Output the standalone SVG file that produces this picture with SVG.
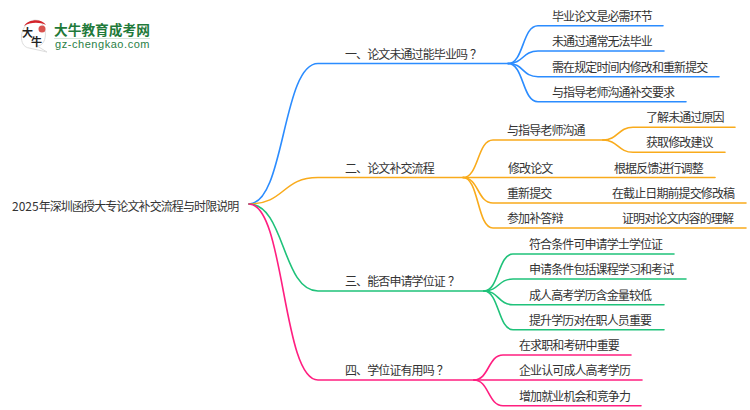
<svg xmlns="http://www.w3.org/2000/svg" width="750" height="410" viewBox="0 0 750 410">
<style>
text{font-family:"Noto Sans CJK SC","Noto Sans",sans-serif;font-size:12px;letter-spacing:-0.9px;fill:#333}
.c{fill:none;stroke-width:1.6;stroke-linecap:round}
.b{stroke:#2b8cff}.o{stroke:#f9ab1c}.g{stroke:#1fc27a}.p{stroke:#ff1f80}
.d{letter-spacing:0}
</style>
<rect width="750" height="410" fill="#fff"/>
<g id="logo">
<path d="M29,48 C16,46 21,21 35,20 C48,20 49,46 37,46 L47,52 Z" fill="#fff" stroke="#ddd" stroke-width="1"/>
<path d="M24,26 C28,19 42,18 46,25 C40,22 30,22 24,26 Z" fill="#d4232a"/>
<circle cx="42" cy="29" r="3.5" fill="#d9534f"/>
<text x="22" y="37" style="font-size:11px;font-weight:700;fill:#222;letter-spacing:0">大</text>
<text x="31" y="46" style="font-size:11px;font-weight:700;fill:#222;letter-spacing:0">牛</text>
<text x="54" y="35" style="font-size:13.7px;font-weight:700;fill:#1f7a3a;letter-spacing:0">大牛教育成考网</text>
<rect x="54" y="38" width="96" height="1" fill="#d5e5d9"/>
<text x="55" y="48" style="font-family:'Liberation Sans',sans-serif;font-size:11px;letter-spacing:0.55px;fill:#2a8045">gz-chengkao.com</text>
</g>
<g id="connectors">
<path class="c b" d="M249,204 C285,204 282,63.5 318,63.5 H508"/>
<path class="c b" d="M508,63.5 C524,63.5 522,25.7 538,25.7 H663"/>
<path class="c b" d="M508,63.5 C524,63.5 522,51 538,51 H664"/>
<path class="c b" d="M508,63.5 C524,63.5 522,76.7 538,76.7 H719"/>
<path class="c b" d="M508,63.5 C524,63.5 522,101.7 538,101.7 H686"/>
<path class="c o" d="M249,204 C285,204 282,177.5 318,177.5 H463"/>
<path class="c o" d="M463,177.5 C479,177.5 477,140 493,140 H603"/>
<path class="c o" d="M603,140 C618,140 618,127.3 633,127.3 H735"/>
<path class="c o" d="M603,140 C618,140 618,152.3 633,152.3 H725"/>
<path class="c o" d="M463,177.5 H715"/>
<path class="c o" d="M463,177.5 C479,177.5 477,203 493,203 H746"/>
<path class="c o" d="M463,177.5 C479,177.5 477,228 493,228 H746"/>
<path class="c g" d="M249,204 C285,204 282,291 318,291 H484"/>
<path class="c g" d="M484,291 C499,291 498,254 513,254 H674"/>
<path class="c g" d="M484,291 C499,291 498,279 513,279 H686"/>
<path class="c g" d="M484,291 C499,291 498,304.7 513,304.7 H664"/>
<path class="c g" d="M484,291 C499,291 498,329.7 513,329.7 H664"/>
<path class="c p" d="M249,204 C285,204 282,380 318,380 H474"/>
<path class="c p" d="M474,380 C489,380 488,355 503,355 H631"/>
<path class="c p" d="M474,380 H642"/>
<path class="c p" d="M474,380 C489,380 488,405.7 503,405.7 H641"/>
</g>
<g id="root"><text x="12" y="210.5"><tspan class="d">2025</tspan>年深圳函授大专论文补交流程与时限说明</text></g>
<g id="n1"><text x="345" y="58.5">一、论文未通过能毕业吗<tspan dx="3">？</tspan></text></g>
<g id="n1-1"><text x="552" y="20.5">毕业论文是必需环节</text></g>
<g id="n1-2"><text x="552" y="46">未通过通常无法毕业</text></g>
<g id="n1-3"><text x="552" y="71.5">需在规定时间内修改和重新提交</text></g>
<g id="n1-4"><text x="552" y="96.5">与指导老师沟通补交要求</text></g>
<g id="n2"><text x="345" y="172.5">二、论文补交流程</text></g>
<g id="n2-1"><text x="507" y="135">与指导老师沟通</text></g>
<g id="n2-1-1"><text x="646" y="122">了解未通过原因</text></g>
<g id="n2-1-2"><text x="646" y="147">获取修改建议</text></g>
<g id="n2-2"><text x="508" y="172.5">修改论文</text></g>
<g id="n2-2-1"><text x="614" y="172.5">根据反馈进行调整</text></g>
<g id="n2-3"><text x="507" y="198">重新提交</text></g>
<g id="n2-3-1"><text x="612" y="198">在截止日期前提交修改稿</text></g>
<g id="n2-4"><text x="507" y="223">参加补答辩</text></g>
<g id="n2-4-1"><text x="622" y="223">证明对论文内容的理解</text></g>
<g id="n3"><text x="345" y="286">三、能否申请学位证<tspan dx="3">？</tspan></text></g>
<g id="n3-1"><text x="529" y="249">符合条件可申请学士学位证</text></g>
<g id="n3-2"><text x="529" y="274">申请条件包括课程学习和考试</text></g>
<g id="n3-3"><text x="529" y="299.5">成人高考学历含金量较低</text></g>
<g id="n3-4"><text x="529" y="324.5">提升学历对在职人员重要</text></g>
<g id="n4"><text x="345" y="375">四、学位证有用吗<tspan dx="3">？</tspan></text></g>
<g id="n4-1"><text x="519" y="350">在求职和考研中重要</text></g>
<g id="n4-2"><text x="519" y="375">企业认可成人高考学历</text></g>
<g id="n4-3"><text x="519" y="400.5">增加就业机会和竞争力</text></g>
</svg>
